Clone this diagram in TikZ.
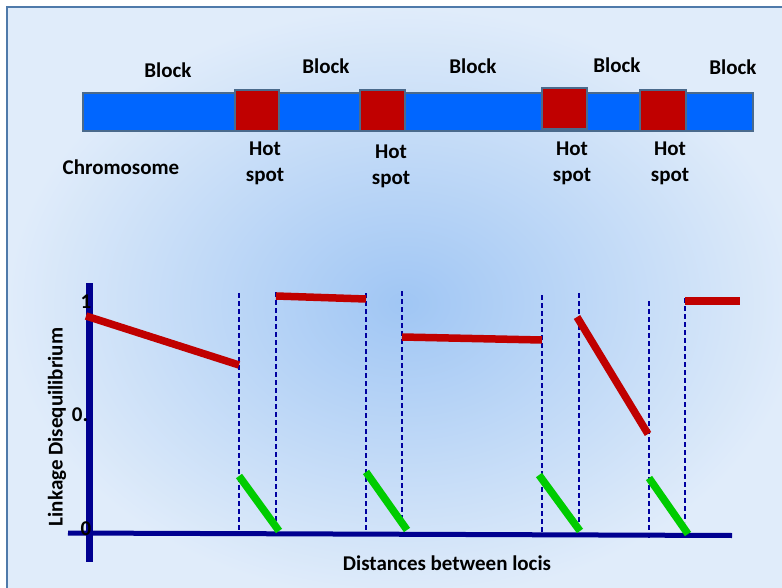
\documentclass[tikz,border=0pt]{standalone}
\usepackage{fontspec}
\setmainfont{Carlito}
\begin{document}
\begin{tikzpicture}[x=1pt,y=-1pt,
  lbl/.style={font=\bfseries\fontsize{21}{26}\selectfont, inner sep=0pt, align=center},
  chrom/.style={fill={rgb,255:red,0;green,102;blue,255}, draw={rgb,255:red,74;green,106;blue,140}, line width=1.6pt},
  hot/.style={fill={rgb,255:red,192;green,0;blue,0}, draw={rgb,255:red,74;green,106;blue,140}, line width=1.6pt},
  axisline/.style={draw={rgb,255:red,0;green,0;blue,144}},
  guide/.style={draw={rgb,255:red,0;green,0;blue,160}, line width=1.1pt, dash pattern=on 5pt off 3pt},
  ldline/.style={draw={rgb,255:red,192;green,0;blue,0}, line width=7.5pt},
  gline/.style={draw={rgb,255:red,0;green,204;blue,0}, line width=7.5pt}]
\definecolor{bgin}{RGB}{160,198,244}
\definecolor{bgout}{RGB}{224,236,250}
\definecolor{frame}{RGB}{79,122,170}
\useasboundingbox (0,0) rectangle (782,588);
\clip (0,0) rectangle (782,588);
\fill[white] (0,0) rectangle (782,588);
\shade[inner color=bgin, outer color=bgout] (7,7) rectangle (800,600);
\draw[frame, line width=2pt] (7,600) -- (7,7) -- (800,7);
% chromosome
\draw[chrom] (83,93) rectangle (753,131);
\draw[hot] (235,90) rectangle (279,131);
\draw[hot] (360,90) rectangle (405,131);
\draw[hot] (542,88) rectangle (587,129);
\draw[hot] (640,90) rectangle (686,131);
\node[lbl] (b1) at (168,70) {Block};
\node[lbl] (b2) at (326,66) {Block};
\node[lbl] (b3) at (473,66) {Block};
\node[lbl] (b4) at (617,65) {Block};
\node[lbl] (b5) at (733,67) {Block};
\node[lbl] (chr) at (121,167) {Chromosome};
\node[lbl] (h1) at (265,163) {Hot\\spot};
\node[lbl] (h2) at (391,166) {Hot\\spot};
\node[lbl] (h3) at (572,163) {Hot\\spot};
\node[lbl] (h4) at (670,163) {Hot\\spot};
% guides
\foreach \x/\a/\b in {239/293/532, 276/292/532, 366/293/532, 402/291/530, 542/295/532, 579/293/530, 649/301/540, 685/298/522}
  \draw[guide] (\x,\a) -- (\x,\b);
% axes
\coordinate (yt) at (89,283);
\coordinate (yb) at (89,562);
\coordinate (xl) at (68,533);
\coordinate (xr) at (732,535.5);
\draw[axisline, line width=7pt] (yt) -- (yb);
\draw[axisline, line width=5pt] (xl) -- (xr);
\node[lbl] (one) at (86,302) {1};
\node[lbl] (half) at (80,415) {0.};
\node[lbl] (zero) at (86,529) {0};
\node[lbl, rotate=90] (ylab) at (57,427) {Linkage Disequilibrium};
\node[lbl] (xlab) at (447,563) {Distances between locis};
% red LD segments
\draw[ldline] (86,316) -- (239,365);
\draw[ldline] (276,296) -- (366,299);
\draw[ldline] (402,337) -- (542,340);
\draw[ldline] (577,317) -- (648,434);
\draw[ldline] (685,301) -- (740,301);
% green segments
\draw[gline] (239,476) -- (279,531);
\draw[gline] (366,472) -- (407,530);
\draw[gline] (539,475) -- (580,531);
\draw[gline] (649,478) -- (688,534);
\end{tikzpicture}
\end{document}
